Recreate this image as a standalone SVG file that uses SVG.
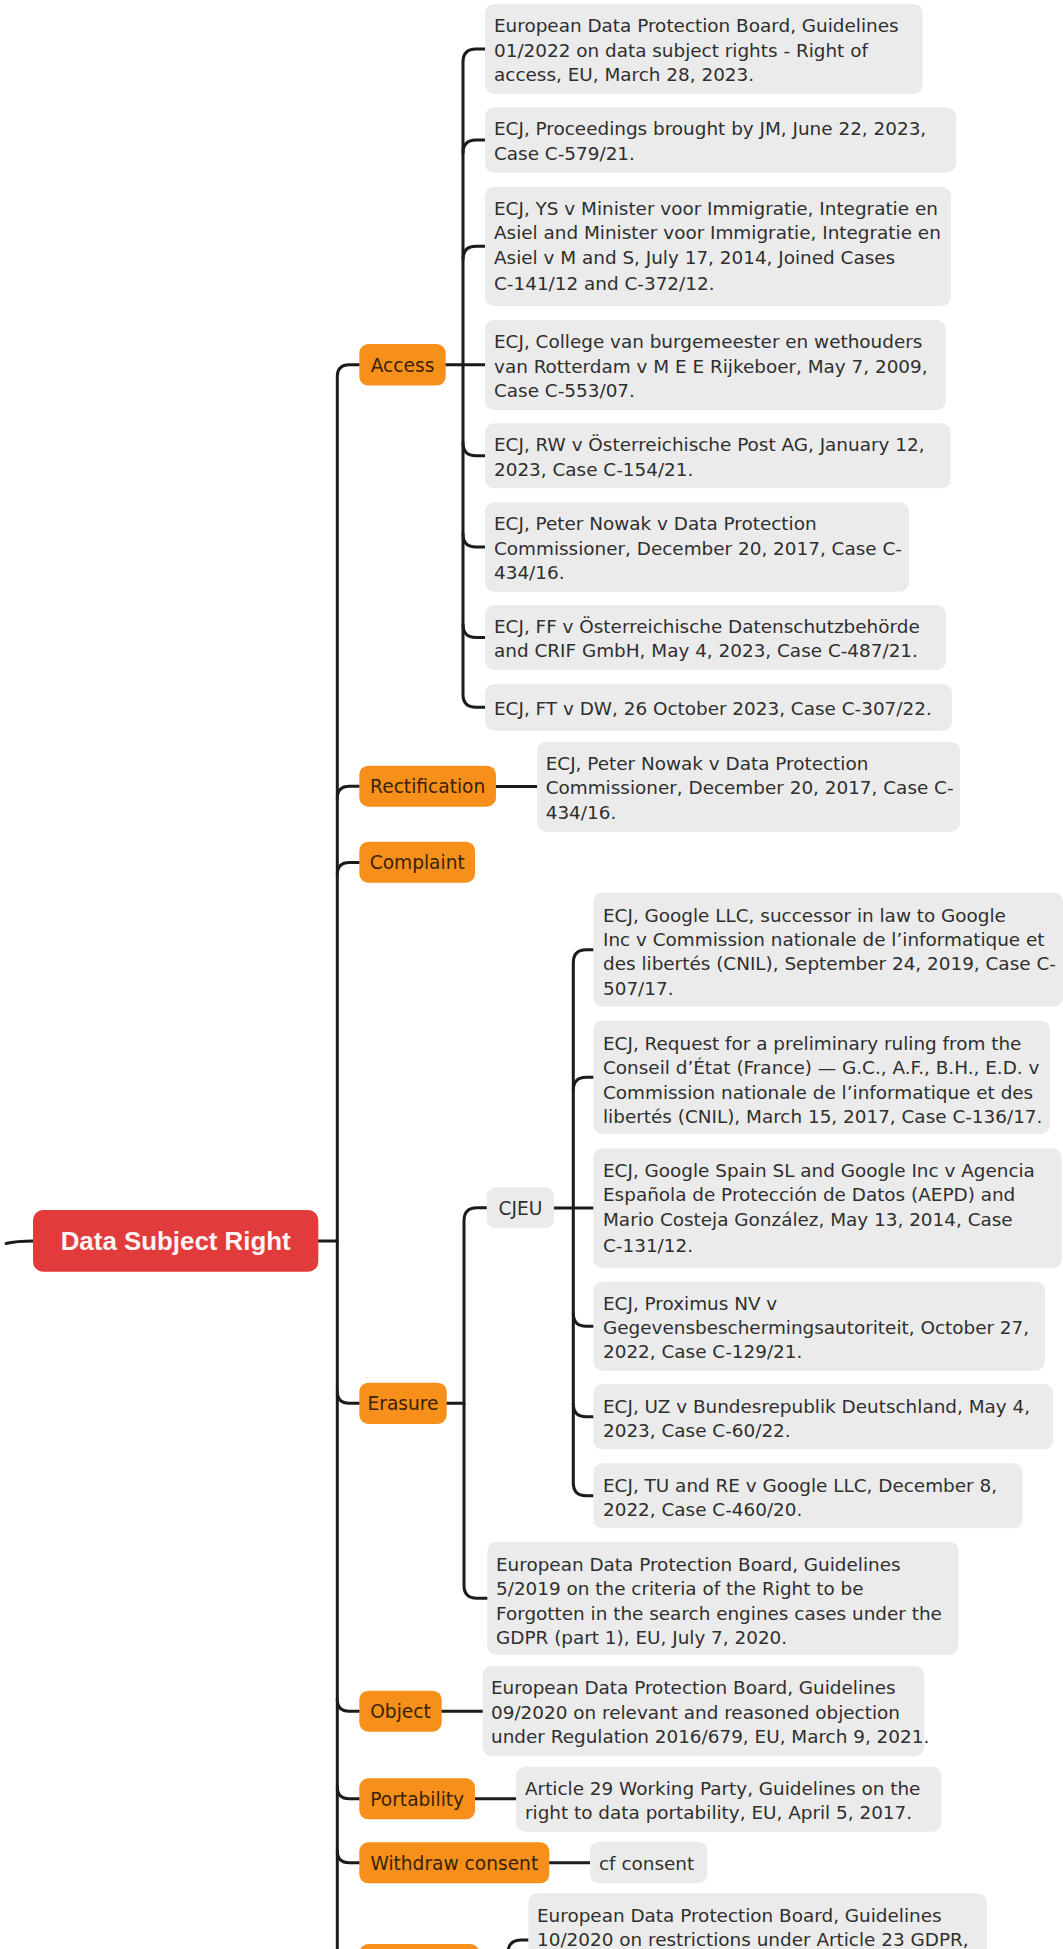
<svg xmlns="http://www.w3.org/2000/svg" width="1063" height="1949" viewBox="0 0 1063 1949">
<style>
.bg{fill:#ffffff}
.box{fill:#EBEBEB}
.t{font-family:"DejaVu Sans","Liberation Sans",sans-serif;font-size:18.4px;fill:#2f2f2f}
.main{fill:#F7901A}
.mt{font-family:"DejaVu Sans","Liberation Sans",sans-serif;font-size:18.6px;fill:#3a2208;text-anchor:middle}
.root{fill:#E23B3B}
.rt{font-family:"Liberation Sans",Arial,sans-serif;font-size:25.5px;font-weight:bold;fill:#FFF3F3;text-anchor:middle}
.ln{fill:none;stroke:#1b1b1b;stroke-width:3;stroke-linecap:round;stroke-linejoin:round}
</style>
<rect class="bg" x="0" y="0" width="1063" height="1949"/>
<g id="connectors">
<path class="ln" d="M6 1243.5 Q16 1241 33 1241"/>
<path class="ln" d="M318.3 1241 H337.3"/>
<path class="ln" d="M337.3 1965 V376.8 Q337.3 364.8 349.3 364.8 H359.3"/>
<path class="ln" d="M337.3 798.2 Q337.3 786.2 349.3 786.2 H359.3"/>
<path class="ln" d="M337.3 874.5 Q337.3 862.5 349.3 862.5 H359.3"/>
<path class="ln" d="M337.3 1391.3 Q337.3 1403.3 349.3 1403.3 H359.3"/>
<path class="ln" d="M337.3 1699.2 Q337.3 1711.2 349.3 1711.2 H359.3"/>
<path class="ln" d="M337.3 1786.8 Q337.3 1798.8 349.3 1798.8 H359.3"/>
<path class="ln" d="M337.3 1850.8 Q337.3 1862.8 349.3 1862.8 H359.3"/>
<path class="ln" d="M485 49 H476 Q463 49 463 62 V694.3 Q463 707.3 476 707.3 H485"/>
<path class="ln" d="M445.7 364.8 H485"/>
<path class="ln" d="M463 153 Q463 140 476 140 H485"/>
<path class="ln" d="M463 259.3 Q463 246.3 476 246.3 H485"/>
<path class="ln" d="M463 442.8 Q463 455.8 476 455.8 H485"/>
<path class="ln" d="M463 534 Q463 547 476 547 H485"/>
<path class="ln" d="M463 624.5 Q463 637.5 476 637.5 H485"/>
<path class="ln" d="M496 786.5 H537"/>
<path class="ln" d="M486.7 1207.8 H477 Q464 1207.8 464 1220.8 V1585.3 Q464 1598.3 477 1598.3 H487.3"/>
<path class="ln" d="M446.7 1403.3 H464"/>
<path class="ln" d="M593.3 949.7 H586.3 Q573.3 949.7 573.3 962.7 V1482.8 Q573.3 1495.8 586.3 1495.8 H593.3"/>
<path class="ln" d="M554 1208 H593.3"/>
<path class="ln" d="M573.3 1090.3 Q573.3 1077.3 586.3 1077.3 H593.3"/>
<path class="ln" d="M573.3 1313.2 Q573.3 1326.2 586.3 1326.2 H593.3"/>
<path class="ln" d="M573.3 1403.7 Q573.3 1416.7 586.3 1416.7 H593.3"/>
<path class="ln" d="M441.7 1711.2 H482.7"/>
<path class="ln" d="M475 1798.8 H516"/>
<path class="ln" d="M549.3 1862.8 H590"/>
<path class="ln" d="M508 1965 V1953 Q508 1940 521 1940 H528.3"/>
</g>
<g id="root">
<rect class="root" x="33" y="1210" width="285.3" height="61.7" rx="10"/>
<text class="rt" x="175.7" y="1250" textLength="230" lengthAdjust="spacingAndGlyphs">Data Subject Right</text>
</g>
<g id="access">
<rect class="main" x="359.3" y="344" width="86.4" height="41.6" rx="9"/>
<text class="mt" x="402.5" y="371.5">Access</text>
</g>
<g id="access-1">
<rect class="box" x="485" y="4" width="437.7" height="90" rx="9"/>
<text class="t" x="494"><tspan x="494" y="32.2">European Data Protection Board, Guidelines</tspan><tspan x="494" y="56.5">01/2022 on data subject rights - Right of</tspan><tspan x="494" y="80.8">access, EU, March 28, 2023.</tspan></text>
</g>
<g id="access-2">
<rect class="box" x="485" y="107.3" width="471" height="65.4" rx="9"/>
<text class="t" x="494"><tspan x="494" y="135.4">ECJ, Proceedings brought by JM, June 22, 2023,</tspan><tspan x="494" y="159.7">Case C-579/21.</tspan></text>
</g>
<g id="access-3">
<rect class="box" x="485" y="186.7" width="466" height="119.3" rx="9"/>
<text class="t" x="494"><tspan x="494" y="215">ECJ, YS v Minister voor Immigratie, Integratie en</tspan><tspan x="494" y="239.3">Asiel and Minister voor Immigratie, Integratie en</tspan><tspan x="494" y="263.6">Asiel v M and S, July 17, 2014, Joined Cases</tspan><tspan x="494" y="290.3">C-141/12 and C-372/12.</tspan></text>
</g>
<g id="access-4">
<rect class="box" x="485" y="320" width="460.7" height="90" rx="9"/>
<text class="t" x="494"><tspan x="494" y="348.2">ECJ, College van burgemeester en wethouders</tspan><tspan x="494" y="372.5">van Rotterdam v M E E Rijkeboer, May 7, 2009,</tspan><tspan x="494" y="396.8">Case C-553/07.</tspan></text>
</g>
<g id="access-5">
<rect class="box" x="485" y="423.3" width="465.7" height="65" rx="9"/>
<text class="t" x="494"><tspan x="494" y="451.2">ECJ, RW v Österreichische Post AG, January 12,</tspan><tspan x="494" y="475.5">2023, Case C-154/21.</tspan></text>
</g>
<g id="access-6">
<rect class="box" x="485" y="502.3" width="424" height="89.4" rx="9"/>
<text class="t" x="494"><tspan x="494" y="530.2">ECJ, Peter Nowak v Data Protection</tspan><tspan x="494" y="554.5">Commissioner, December 20, 2017, Case C-</tspan><tspan x="494" y="578.8">434/16.</tspan></text>
</g>
<g id="access-7">
<rect class="box" x="485" y="605" width="461" height="65" rx="9"/>
<text class="t" x="494"><tspan x="494" y="632.9">ECJ, FF v Österreichische Datenschutzbehörde</tspan><tspan x="494" y="657.2">and CRIF GmbH, May 4, 2023, Case C-487/21.</tspan></text>
</g>
<g id="access-8">
<rect class="box" x="485" y="684" width="467" height="46.7" rx="9"/>
<text class="t" x="494" y="714.8">ECJ, FT v DW, 26 October 2023, Case C-307/22.</text>
</g>
<g id="rectification">
<rect class="main" x="359.3" y="765.7" width="136.7" height="41" rx="9"/>
<text class="mt" x="427.7" y="792.8">Rectification</text>
</g>
<g id="rectification-1">
<rect class="box" x="537" y="741.7" width="423" height="90" rx="9"/>
<text class="t" x="545.7"><tspan x="545.7" y="769.9">ECJ, Peter Nowak v Data Protection</tspan><tspan x="545.7" y="794.2">Commissioner, December 20, 2017, Case C-</tspan><tspan x="545.7" y="818.5">434/16.</tspan></text>
</g>
<g id="complaint">
<rect class="main" x="359.3" y="841.7" width="115.7" height="41" rx="9"/>
<text class="mt" x="417.2" y="869">Complaint</text>
</g>
<g id="erasure">
<rect class="main" x="359.3" y="1382.7" width="87.4" height="41.3" rx="9"/>
<text class="mt" x="403" y="1410">Erasure</text>
</g>
<g id="cjeu">
<rect class="box" x="486.7" y="1187.3" width="67.3" height="41" rx="9"/>
<text class="mt" x="520.4" y="1214.6" style="fill:#2f2f2f">CJEU</text>
</g>
<g id="cjeu-1">
<rect class="box" x="593.3" y="892.7" width="469.7" height="114" rx="9"/>
<text class="t" x="603"><tspan x="603" y="921.5">ECJ, Google LLC, successor in law to Google</tspan><tspan x="603" y="945.8">Inc v Commission nationale de l’informatique et</tspan><tspan x="603" y="970.1">des libertés (CNIL), September 24, 2019, Case C-</tspan><tspan x="603" y="994.8">507/17.</tspan></text>
</g>
<g id="cjeu-2">
<rect class="box" x="593.3" y="1020.7" width="456.7" height="113.3" rx="9"/>
<text class="t" x="603"><tspan x="603" y="1049.7">ECJ, Request for a preliminary ruling from the</tspan><tspan x="603" y="1074.3">Conseil d’État (France) — G.C., A.F., B.H., E.D. v</tspan><tspan x="603" y="1098.7">Commission nationale de l’informatique et des</tspan><tspan x="603" y="1123">libertés (CNIL), March 15, 2017, Case C-136/17.</tspan></text>
</g>
<g id="cjeu-3">
<rect class="box" x="593.3" y="1148.3" width="468.4" height="120" rx="9"/>
<text class="t" x="603"><tspan x="603" y="1177">ECJ, Google Spain SL and Google Inc v Agencia</tspan><tspan x="603" y="1201.3">Española de Protección de Datos (AEPD) and</tspan><tspan x="603" y="1225.6">Mario Costeja González, May 13, 2014, Case</tspan><tspan x="603" y="1252">C-131/12.</tspan></text>
</g>
<g id="cjeu-4">
<rect class="box" x="593.3" y="1281.7" width="451.7" height="89" rx="9"/>
<text class="t" x="603"><tspan x="603" y="1309.5">ECJ, Proximus NV v</tspan><tspan x="603" y="1333.8">Gegevensbeschermingsautoriteit, October 27,</tspan><tspan x="603" y="1358.1">2022, Case C-129/21.</tspan></text>
</g>
<g id="cjeu-5">
<rect class="box" x="593.3" y="1384" width="459.7" height="65.3" rx="9"/>
<text class="t" x="603"><tspan x="603" y="1412.5">ECJ, UZ v Bundesrepublik Deutschland, May 4,</tspan><tspan x="603" y="1436.8">2023, Case C-60/22.</tspan></text>
</g>
<g id="cjeu-6">
<rect class="box" x="593.3" y="1463.3" width="429.3" height="65" rx="9"/>
<text class="t" x="603"><tspan x="603" y="1491.5">ECJ, TU and RE v Google LLC, December 8,</tspan><tspan x="603" y="1515.8">2022, Case C-460/20.</tspan></text>
</g>
<g id="erasure-2">
<rect class="box" x="487.3" y="1541.7" width="471.1" height="113.3" rx="9"/>
<text class="t" x="496"><tspan x="496" y="1571.3">European Data Protection Board, Guidelines</tspan><tspan x="496" y="1595.3">5/2019 on the criteria of the Right to be</tspan><tspan x="496" y="1619.7">Forgotten in the search engines cases under the</tspan><tspan x="496" y="1643.7">GDPR (part 1), EU, July 7, 2020.</tspan></text>
</g>
<g id="object">
<rect class="main" x="359.3" y="1690.7" width="82.4" height="41" rx="9"/>
<text class="mt" x="400.5" y="1718">Object</text>
</g>
<g id="object-1">
<rect class="box" x="482.7" y="1666" width="441.6" height="90" rx="9"/>
<text class="t" x="491"><tspan x="491" y="1694.2">European Data Protection Board, Guidelines</tspan><tspan x="491" y="1718.5">09/2020 on relevant and reasoned objection</tspan><tspan x="491" y="1742.8">under Regulation 2016/679, EU, March 9, 2021.</tspan></text>
</g>
<g id="portability">
<rect class="main" x="359.3" y="1778.3" width="115.7" height="41" rx="9"/>
<text class="mt" x="417.2" y="1805.6">Portability</text>
</g>
<g id="portability-1">
<rect class="box" x="516" y="1766.7" width="425.4" height="65" rx="9"/>
<text class="t" x="525"><tspan x="525" y="1794.6">Article 29 Working Party, Guidelines on the</tspan><tspan x="525" y="1818.9">right to data portability, EU, April 5, 2017.</tspan></text>
</g>
<g id="withdraw">
<rect class="main" x="359.3" y="1842.3" width="190" height="41" rx="9"/>
<text class="mt" x="454.3" y="1869.6">Withdraw consent</text>
</g>
<g id="withdraw-1">
<rect class="box" x="590" y="1841.7" width="117.3" height="41.6" rx="9"/>
<text class="t" x="599" y="1870">cf consent</text>
</g>
<g id="restriction">
<rect class="main" x="359.3" y="1944" width="120" height="41" rx="9"/>
</g>
<g id="restriction-1">
<rect class="box" x="528.3" y="1893.3" width="458.7" height="114" rx="9"/>
<text class="t" x="537"><tspan x="537" y="1922">European Data Protection Board, Guidelines</tspan><tspan x="537" y="1946.3">10/2020 on restrictions under Article 23 GDPR,</tspan></text>
</g>
</svg>
